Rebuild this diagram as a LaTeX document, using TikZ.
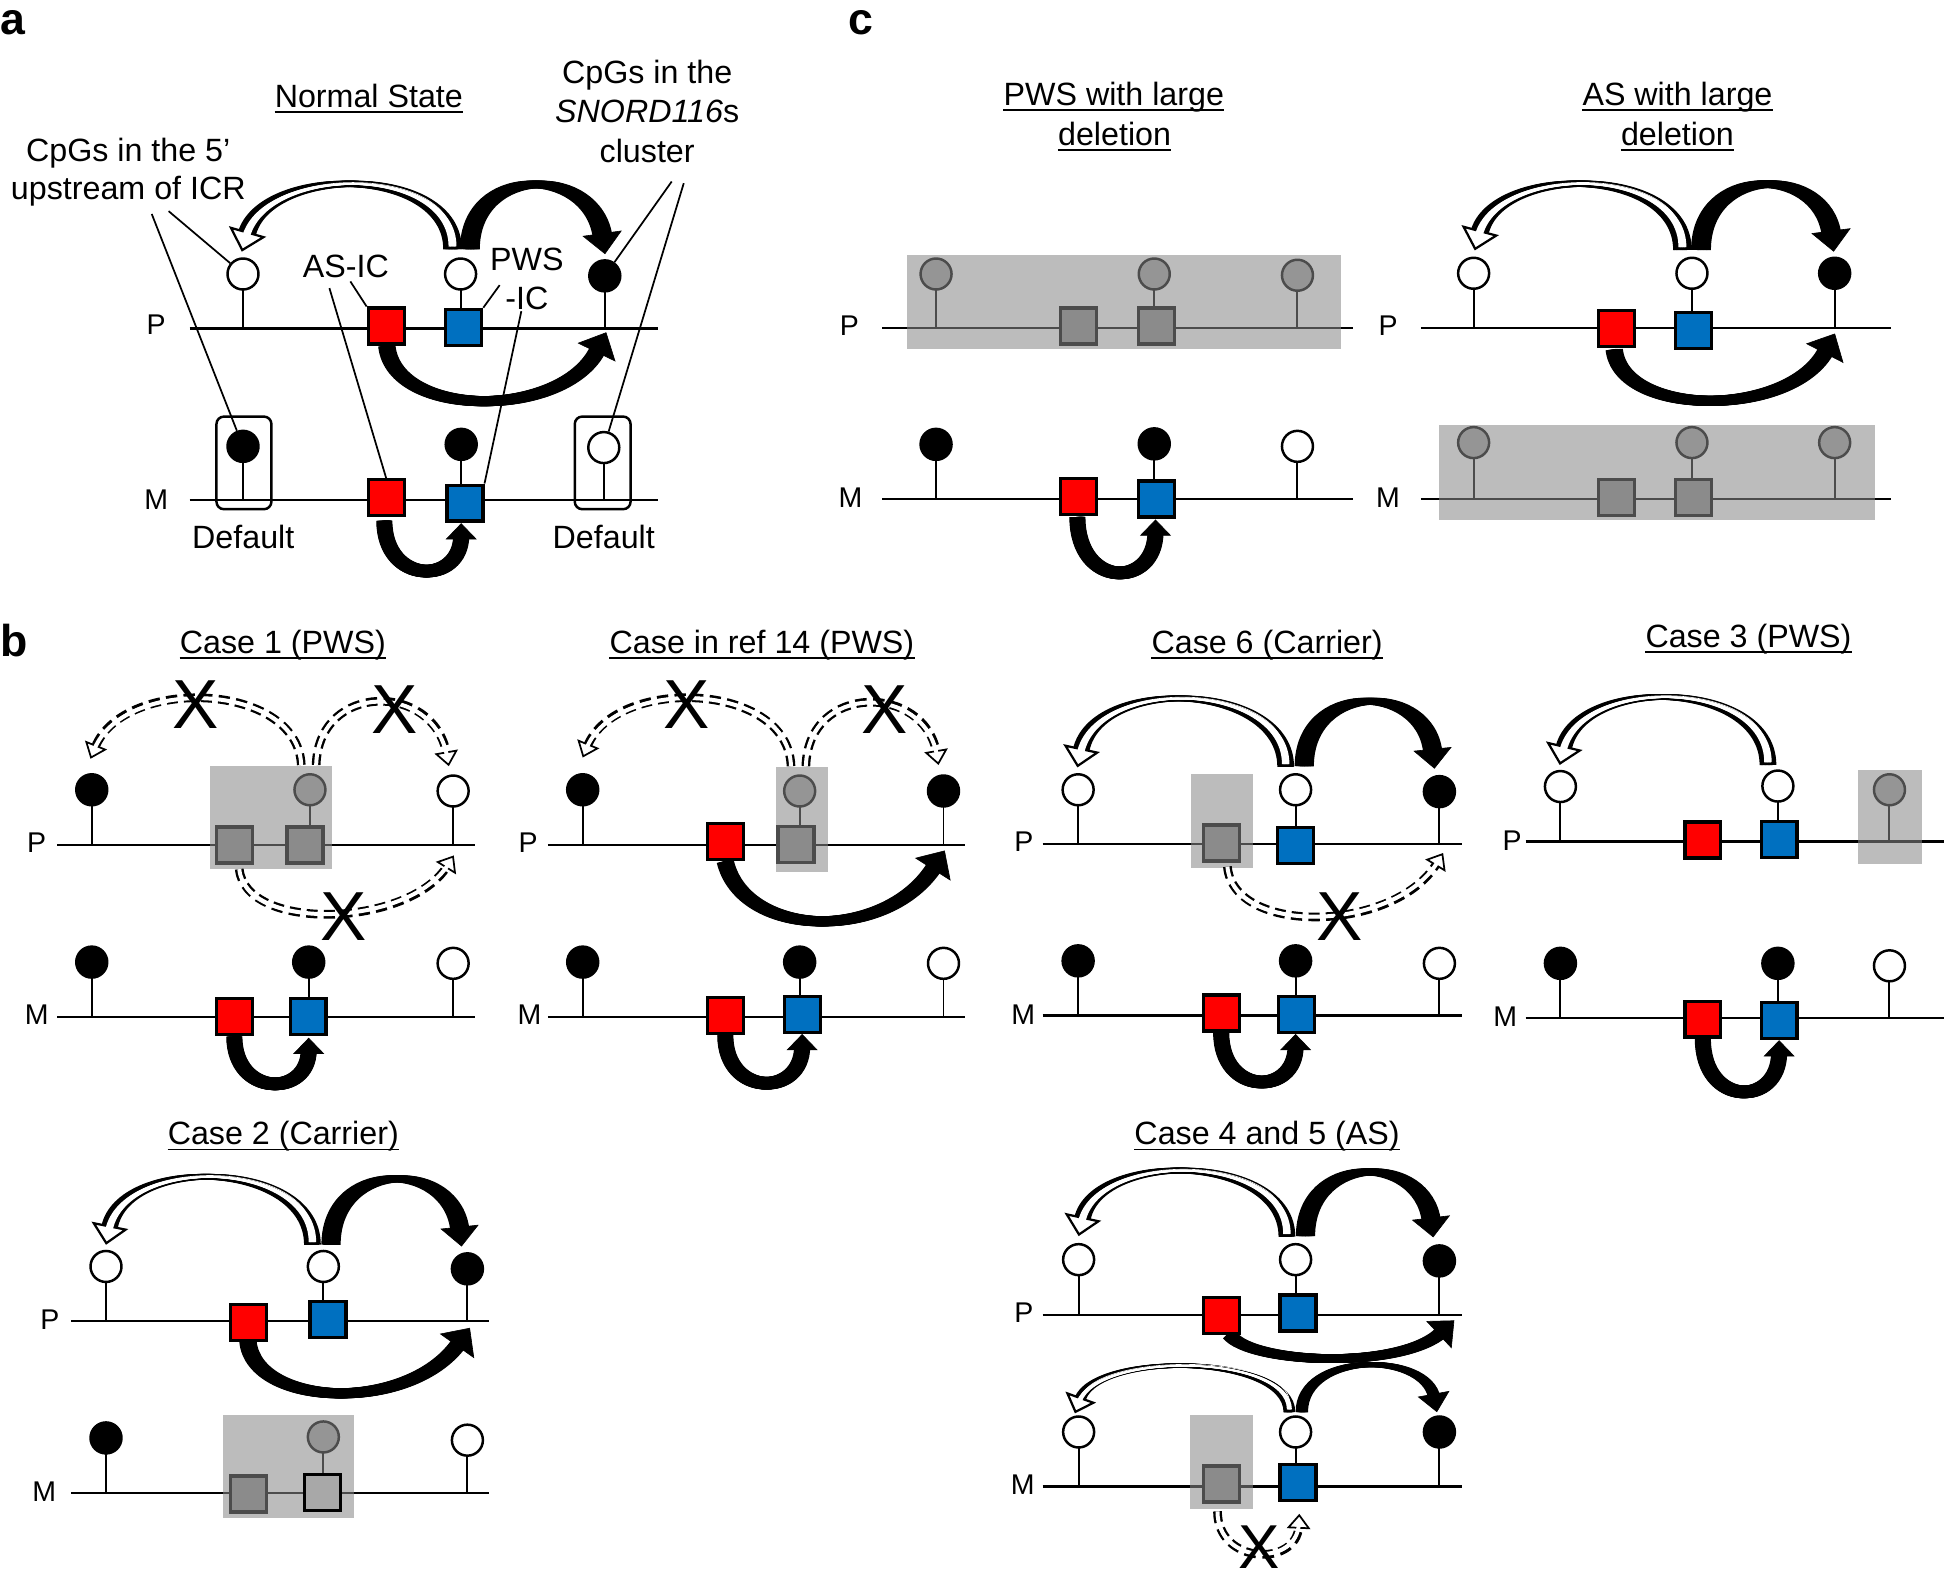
\documentclass[tikz,border=0pt]{standalone}
\usepackage{fontspec}
\setmainfont{Liberation Sans}
\usetikzlibrary{arrows.meta}
\definecolor{myred}{RGB}{255,0,0}
\definecolor{myblue}{RGB}{0,112,192}
\definecolor{gsqc}{RGB}{143,143,143}
\definecolor{gcic}{RGB}{166,166,166}
\definecolor{gboxc}{RGB}{137,137,137}
\definecolor{topsq}{RGB}{168,168,168}
\tikzset{
  lbl/.style={font=\fontsize{26}{30}\selectfont, inner sep=0pt},
  pm/.style={font=\fontsize{23}{27}\selectfont, inner sep=0pt},
  xm/.style={font=\fontsize{56}{60}\selectfont, inner sep=0pt},
  pan/.style={font=\fontsize{36}{40}\selectfont\bfseries, inner sep=0pt, anchor=base west},
  chrom/.style={line width=1.8pt},
  stem/.style={line width=1.6pt},
  ptr/.style={line width=1.4pt},
  ocirc/.style={circle, draw=black, line width=2pt, fill=white, minimum size=25pt, inner sep=0pt},
  fcirc/.style={ocirc, fill=black},
  gcirc/.style={ocirc, fill=gcic},
  rsq/.style={rectangle, draw=black, line width=2.6pt, fill=myred, minimum size=29pt, inner sep=0pt},
  bsq/.style={rsq, fill=myblue},
  gsq/.style={rsq, fill=gsqc},
  tsq/.style={rsq, fill=topsq},
  gbox/.style={fill=gboxc, fill opacity=0.56},
  dbox/.style={line width=2pt, rounded corners=6pt},
}
% lollipop: name, x, y of circle, y of foot, style
\newcommand\Lol[5]{\draw[stem] (#2,#4) -- (#2,#3); \node[#5] (#1) at (#2,#3) {};}
% square: name, x, y, style
\newcommand\Sq[4]{\node[#4] (#1) at (#2,#3) {};}
% chromosome: label name, label, label x, label baseline, x1, x2, y
\newcommand\Chr[7]{\node[pm, anchor=base] (#1) at (#3,#4) {#2}; \draw[chrom] (#5,#7) -- (#6,#7);}
% underlined title: name, x, baseline, text
\newcommand\Ttl[4]{\node[lbl, anchor=base] (#1) at (#2,#3) {#4};
  \draw[line width=1.5pt] ([yshift=-3.8pt]#1.base west) -- ([yshift=-3.8pt]#1.base east);}
% calligraphic black arrow: base width, half nib, head length, head width, path
\newcommand\Blk[5]{%
  \foreach \i in {-4,...,4} {\draw[line width=#1pt, shorten >=#3pt-3pt, xshift={\i*#2pt/4}] #5;}
  \draw[line width=0.5pt, -{Triangle[length=#3pt, width=#4pt]}] #5;}
% calligraphic hollow arrow: outer base, outer half nib, inner base, inner half nib, head length, head width, path
\newcommand\Hol[7]{%
  \foreach \i in {-4,...,4} {\draw[line width=#1pt, shorten >=#5pt-1.5pt, xshift={\i*#2pt/4}] #7;}
  \draw[white, line width=0.5pt, shorten <=8pt,
        -{Triangle[open, color=black, fill=white, length=#5pt, width=#6pt, line width=1.8pt]}] #7;
  \foreach \i in {-4,...,4} {\draw[white, line width=#3pt, shorten >=#5pt-4pt, shorten <=2.2pt, xshift={\i*#4pt/4}] #7;}}
% dashed hollow arrow: path
\newcommand\Dhol[1]{%
  \draw[line width=7pt, dash pattern=on 9pt off 5pt, shorten >=10pt] #1;
  \draw[white, line width=0.5pt, shorten <=4pt,
        -{Triangle[open, color=black, fill=white, length=12pt, width=19pt, line width=1.4pt]}] #1;
  \draw[line width=3.2pt, white, shorten >=8pt] #1;}

\begin{document}
\begin{tikzpicture}[x=1pt,y=-1pt]
\useasboundingbox (0,0) rectangle (1568,1278);
\fill[white] (0,0) rectangle (1568,1278);

% ================= panel a =================
\node[pan] (la) at (0,28) {a};
\Ttl{tNS}{297.5}{86.6}{Normal State}
\node[lbl, anchor=base] (c5a) at (103.4,130) {CpGs in the 5’};
\node[lbl, anchor=base] (c5b) at (103.5,161.3) {upstream of ICR};
\node[lbl, anchor=base] (sna) at (522,67.2) {CpGs in the};
\node[lbl, anchor=base] (snb) at (522,98.6) {\textit{SNORD116}s};
\node[lbl, anchor=base] (snc) at (522,131.4) {cluster};
\node[lbl, anchor=base] (asic) at (279,224) {AS-IC};
\node[lbl, anchor=base] (pwsa) at (425,218) {PWS};
\node[lbl, anchor=base] (pwsb) at (425,249.4) {-IC};
\node[lbl, anchor=base] (defl) at (196.2,442) {Default};
\node[lbl, anchor=base] (defr) at (487,442) {Default};

\Chr{aP}{P}{126}{270}{153}{531}{265}
\Chr{aM}{M}{126}{410.7}{153}{531}{403}
\draw[dbox] (174.6,336) rectangle (218.9,410.7);
\draw[dbox] (463.6,336) rectangle (508.6,410.7);
\Lol{aP1}{196}{221}{265}{ocirc}
\Lol{aP2}{371.5}{221}{264}{ocirc}
\Lol{aP3}{487.8}{222.5}{265}{fcirc}
\Sq{aPr}{311.5}{263}{rsq}
\Sq{aPb}{374}{264}{bsq}
\Lol{aM1}{196}{360}{403}{fcirc}
\Lol{aM2}{372}{358.4}{405.8}{fcirc}
\Lol{aM3}{487}{361}{403}{ocirc}
\Sq{aMr}{311.5}{401.5}{rsq}
\Sq{aMb}{375}{405.8}{bsq}

\coordinate (q1) at (136,170.3);
\coordinate (q2) at (122.4,172.6);
\coordinate (q3) at (282.6,227);
\coordinate (q4) at (265.7,232.4);
\coordinate (q5) at (403,230);
\coordinate (q6) at (420.5,251);
\coordinate (q7) at (541.8,146.4);
\coordinate (q8) at (551.5,147.8);
\draw[ptr] (q1) -- (aP1);
\draw[ptr] (q2) -- (aM1);
\draw[ptr] (q3) -- (aPr.north west);
\draw[ptr] (q4) -- (aMr.north);
\draw[ptr] (q5) -- (aPb.north east);
\draw[ptr] (q6) -- (aMb.north east);
\draw[ptr] (q7) -- (aP3);
\draw[ptr] (q8) -- (aM3);

\Hol{5}{5}{1.2}{2.6}{17}{31}{(365,201) .. controls (365,133) and (215,133) .. (195,203)}
\Blk{6}{5}{17}{32}{(379,201) .. controls (379,133) and (478,133) .. (488,205)}
\Blk{8}{3}{18}{34}{(312,279) .. controls (318,338) and (455,338) .. (489,268)}
\Blk{10}{1.5}{13}{25}{(310,420) .. controls (310,472) and (372,472) .. (372,422)}

% ================= panel c =================
\node[pan] (lc) at (684,28) {c};
\Ttl{tPWSa}{898.4}{85.1}{PWS with large}
\Ttl{tPWSb}{899}{117}{deletion}
\Ttl{tASa}{1353}{85.1}{AS with large}
\Ttl{tASb}{1353}{117}{deletion}

% left P (deleted)
\Chr{cLP}{P}{685}{270.3}{711.5}{1091}{264.3}
\Lol{cLP1}{755}{221}{264.3}{gcirc}
\Lol{cLP2}{931}{221}{263}{gcirc}
\Lol{cLP3}{1046.5}{222}{264.3}{gcirc}
\Sq{cLPr}{870}{263}{gsq}
\Sq{cLPb}{933}{263}{gsq}
\fill[gbox] (731.5,205.5) rectangle (1081.5,281.4);
% left M
\Chr{cLM}{M}{686}{409.2}{711.5}{1091}{402.5}
\Lol{cLM1}{755}{358.4}{402.5}{fcirc}
\Lol{cLM2}{931}{358}{402.5}{fcirc}
\Lol{cLM3}{1046.5}{360}{402.5}{ocirc}
\Sq{cLMr}{870}{400.5}{rsq}
\Sq{cLMb}{933}{402.5}{bsq}
\Blk{10}{1.5}{13}{25}{(869,417) .. controls (869,475) and (932,475) .. (932,419)}

% right P
\Chr{cRP}{P}{1119.6}{270.3}{1146}{1525}{264.3}
\Lol{cRP1}{1188.6}{220.4}{264.3}{ocirc}
\Lol{cRP2}{1364.7}{220.4}{266.5}{ocirc}
\Lol{cRP3}{1479.8}{220.4}{264.3}{fcirc}
\Sq{cRPr}{1304}{265}{rsq}
\Sq{cRPb}{1366}{266.5}{bsq}
\Hol{5}{5}{1.2}{2.6}{17}{31}{(1357,201.6) .. controls (1357,133) and (1208,133) .. (1189.5,202)}
\Blk{6}{5}{17}{32}{(1372,201.6) .. controls (1372,133) and (1470,133) .. (1479,203)}
\Blk{8}{3}{18}{34}{(1302,282) .. controls (1308,337) and (1445,337) .. (1480,269)}
% right M (deleted)
\Chr{cRM}{M}{1119.6}{409}{1146}{1525}{402.5}
\Lol{cRM1}{1188.6}{357}{402.5}{gcirc}
\Lol{cRM2}{1364.7}{357}{401}{gcirc}
\Lol{cRM3}{1479.8}{357}{402.5}{gcirc}
\Sq{cRMr}{1304}{401}{gsq}
\Sq{cRMb}{1366}{401}{gsq}
\fill[gbox] (1160.5,343) rectangle (1512,419.7);

% ================= panel b =================
\node[pan] (lb) at (0,529.6) {b};

% ---- Case 1
\Ttl{t1}{228.2}{526.9}{Case 1 (PWS)}
\Chr{b1P}{P}{29.6}{688}{46}{383}{681.5}
\Lol{b1P1}{74}{637}{681.5}{fcirc}
\Lol{b1P2}{250}{637}{681.5}{gcirc}
\Lol{b1P3}{365.5}{638}{681.5}{ocirc}
\Sq{b1Pr}{189}{681.5}{gsq}
\Sq{b1Pb}{246}{681.5}{gsq}
\fill[gbox] (169,618) rectangle (268,701);
\Chr{b1M}{M}{29.6}{826.6}{46}{383}{820}
\Lol{b1M1}{74}{776}{820}{fcirc}
\Lol{b1M2}{249}{776}{820}{fcirc}
\Lol{b1M3}{365.5}{777}{820}{ocirc}
\Sq{b1Mr}{189}{820}{rsq}
\Sq{b1Mb}{248.5}{820}{bsq}
\Blk{10}{1.5}{13}{25}{(189,836) .. controls (189,885) and (249,885) .. (249,837)}
\Dhol{(243,617) .. controls (240,550) and (100,545) .. (73,612)}
\Dhol{(255,617) .. controls (257,550) and (350,550) .. (362,618)}
\Dhol{(193,701) .. controls (198,752) and (330,748) .. (366,690)}
\node[xm] (x11) at (158,568) {X};
\node[xm] (x12) at (318,572.5) {X};
\node[xm] (x13) at (277.5,739) {X};

% ---- Case in ref 14
\Ttl{t14}{614.6}{526.9}{Case in ref 14 (PWS)}
\Chr{b2P}{P}{426}{688}{442}{778}{681.5}
\Lol{b2P1}{470}{637}{681.5}{fcirc}
\Lol{b2P2}{645}{638}{681.5}{gcirc}
\Lol{b2P3}{761}{638}{681.5}{fcirc}
\Sq{b2Pr}{585}{679}{rsq}
\Sq{b2Pg}{642}{681}{gsq}
\fill[gbox] (626,619) rectangle (668,703);
\Chr{b2M}{M}{427}{826.6}{442}{778}{820}
\Lol{b2M1}{470}{776}{820}{fcirc}
\Lol{b2M2}{645}{776}{818}{fcirc}
\Lol{b2M3}{761}{777}{820}{ocirc}
\Sq{b2Mr}{585}{819}{rsq}
\Sq{b2Mb}{647}{818}{bsq}
\Blk{10}{1.5}{13}{25}{(585,835) .. controls (585,885) and (647,885) .. (647,834)}
\Blk{8}{3}{18}{34}{(585,695) .. controls (600,757) and (715,760) .. (762,686)}
\Dhol{(638,618) .. controls (636,550) and (497,545) .. (470,611)}
\Dhol{(650,618) .. controls (652,550) and (746,552) .. (757,617)}
\node[xm] (x21) at (554,568) {X};
\node[xm] (x22) at (713.6,572.5) {X};

% ---- Case 6
\Ttl{t6}{1022}{526.9}{Case 6 (Carrier)}
\Chr{b3P}{P}{825.8}{687}{841}{1179}{680.6}
\Lol{b3P1}{869.6}{637}{680.6}{ocirc}
\Lol{b3P2}{1045}{637}{682}{ocirc}
\Lol{b3P3}{1161}{638.5}{680.6}{fcirc}
\Sq{b3Pg}{985}{680}{gsq}
\Sq{b3Pb}{1045}{682}{bsq}
\fill[gbox] (960.5,624) rectangle (1011,700);
\Chr{b3M}{M}{825.4}{826.6}{841}{1179}{819}
\Lol{b3M1}{869.6}{775}{819}{fcirc}
\Lol{b3M2}{1045}{775}{818}{fcirc}
\Lol{b3M3}{1161}{777}{819}{ocirc}
\Sq{b3Mr}{985}{817}{rsq}
\Sq{b3Mb}{1045.5}{818}{bsq}
\Blk{10}{1.5}{13}{25}{(985,833) .. controls (985,884) and (1045,884) .. (1045,834)}
\Hol{4.5}{4.5}{1.2}{2.4}{16}{30}{(1037,618.5) .. controls (1037,550) and (885,545) .. (869,619)}
\Blk{5.5}{5}{16}{31}{(1052,618) .. controls (1052,550) and (1150,550) .. (1157,620)}
\Dhol{(990,699) .. controls (995,755) and (1125,752) .. (1164,688)}
\node[xm] (x31) at (1080.6,739) {X};

% ---- Case 3
\Ttl{t3}{1410.3}{522}{Case 3 (PWS)}
\Chr{b4P}{P}{1219.6}{685.7}{1230.6}{1568}{678.8}
\Lol{b4P1}{1258.6}{634.4}{678.8}{ocirc}
\Lol{b4P2}{1434}{634}{677}{ocirc}
\Lol{b4P3}{1524}{637}{678.8}{gcirc}
\Sq{b4Pr}{1373.5}{677.5}{rsq}
\Sq{b4Pb}{1435}{677}{bsq}
\fill[gbox] (1499,621) rectangle (1550,697);
\Hol{4.5}{4.5}{1.2}{2.4}{16}{30}{(1426,617) .. controls (1426,548) and (1275,545) .. (1258,617)}
\Chr{b4M}{M}{1214}{828}{1230.6}{1568}{821}
\Lol{b4M1}{1258.6}{777}{821}{fcirc}
\Lol{b4M2}{1434}{777}{823}{fcirc}
\Lol{b4M3}{1524}{779}{821}{ocirc}
\Sq{b4Mr}{1373.5}{822}{rsq}
\Sq{b4Mb}{1435}{823}{bsq}
\Blk{10}{1.5}{13}{25}{(1373.5,838) .. controls (1373.5,893) and (1435,893) .. (1435,839)}

% ---- Case 2
\Ttl{t2}{228.5}{923.4}{Case 2 (Carrier)}
\Chr{b5P}{P}{40.3}{1072.6}{57.3}{394.6}{1065.3}
\Lol{b5P1}{85.5}{1021.5}{1065.3}{ocirc}
\Lol{b5P2}{260.8}{1021.5}{1064.5}{ocirc}
\Lol{b5P3}{377}{1023.4}{1065.3}{fcirc}
\Sq{b5Pr}{200.5}{1066.5}{rsq}
\Sq{b5Pb}{264.5}{1064.5}{bsq}
\Hol{4.5}{4.5}{1.2}{2.4}{16}{30}{(252,1004) .. controls (252,935) and (100,932) .. (85.5,1004)}
\Blk{5.5}{5}{16}{31}{(267,1004) .. controls (267,935) and (365,935) .. (372.3,1005.4)}
\Blk{8}{3}{18}{34}{(200,1082) .. controls (205,1135) and (330,1140) .. (379,1071)}
\Chr{b5M}{M}{35.6}{1211}{57.3}{394.6}{1204.3}
\Lol{b5M1}{85.5}{1159.8}{1204.3}{fcirc}
\Lol{b5M2}{260.8}{1159}{1204}{gcirc}
\Lol{b5M3}{377}{1161.6}{1204.3}{ocirc}
\Sq{b5Mg}{200.5}{1205}{gsq}
\fill[gbox] (179.6,1141) rectangle (285.8,1224.5);
\Sq{b5Mt}{260}{1204}{tsq}

% ---- Case 4 and 5
\Ttl{t45}{1022}{923.4}{Case 4 and 5 (AS)}
\Chr{b6P}{P}{825.8}{1067}{841}{1179}{1060.5}
\Lol{b6P1}{870}{1016}{1060.5}{ocirc}
\Lol{b6P2}{1045}{1016}{1059}{ocirc}
\Lol{b6P3}{1161}{1017}{1060.5}{fcirc}
\Sq{b6Pr}{985}{1061}{rsq}
\Sq{b6Pb}{1047}{1059}{bsq}
\Hol{4.5}{4.5}{1.2}{2.4}{16}{30}{(1038,997.5) .. controls (1038,930) and (885,928) .. (870,997)}
\Blk{5.5}{5}{16}{31}{(1053,997) .. controls (1053,930) and (1148,930) .. (1156,998)}
\Blk{7}{3}{17}{30}{(992,1077) .. controls (1010,1100) and (1130,1105) .. (1173,1065)}
\Chr{b6M}{M}{825}{1205.7}{841}{1179}{1199}
\Lol{b6M1}{870}{1155}{1199}{ocirc}
\Lol{b6M2}{1045}{1155}{1196}{ocirc}
\Lol{b6M3}{1161}{1155}{1199}{fcirc}
\Sq{b6Mg}{985}{1197}{gsq}
\Sq{b6Mb}{1047}{1196}{bsq}
\fill[gbox] (960,1141) rectangle (1011,1217);
\Hol{3.5}{3}{1}{1.5}{14}{26}{(1040,1139) .. controls (1040,1092) and (885,1090) .. (867,1140)}
\Blk{4}{3}{15}{26}{(1050,1139) .. controls (1050,1090) and (1150,1090) .. (1159,1139)}
\Dhol{(982,1219) .. controls (982,1262) and (1046,1264) .. (1048,1221)}
\node[xm, font=\fontsize{50}{54}\selectfont] (x61) at (1016,1248) {X};
\end{tikzpicture}
\end{document}
